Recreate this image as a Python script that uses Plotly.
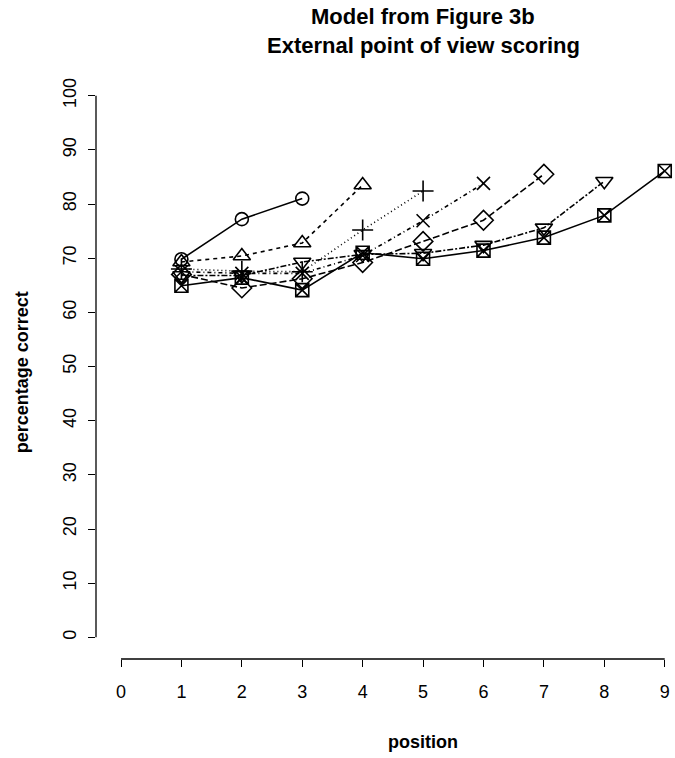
import plotly.graph_objects as go

# Data (percentage correct by position)
circle_y = [69.8, 77.2, 81.0]
triangle_y = [69.3, 70.4, 72.8, 83.5]
plus_y = [68.0, 67.6, 67.5, 75.2, 82.4]
cross_y = [67.5, 67.2, 67.2, 70.5, 76.9, 83.8]
diamond_y = [67.0, 64.5, 66.2, 69.2, 73.1, 77.0, 85.5]
invtri_y = [66.8, 66.8, 69.3, 70.7, 70.9, 72.4, 75.6, 84.2]
square_y = [64.9, 66.4, 64.1, 71.0, 69.9, 71.4, 73.8, 77.9, 86.1]

series = [circle_y, triangle_y, plus_y, cross_y, diamond_y, invtri_y, square_y]
symbols = ["circle-open", "triangle-up-open", "cross-thin-open", "x-thin-open",
           "diamond-open", "triangle-down-open", "square-x-open"]
sizes = [13, 15, 15, 13, 15, 15, 13]
dashes = ["solid", "4px,4px", "1px,3px", "1px,3px,4px,3px", "7px,3px", "2px,2px,6px,2px", "solid"]

x_ticks = list(range(0, 10))
y_ticks = list(range(0, 101, 10))

fig = go.Figure()
for ys, sym, sz, dsh in zip(series, symbols, sizes, dashes):
    xs = list(range(1, len(ys) + 1))
    fig.add_trace(go.Scatter(
        x=xs, y=ys, mode="lines+markers",
        line=dict(color="black", width=1.6, dash=dsh),
        marker=dict(symbol=sym, size=sz, color="black",
                    line=dict(color="black", width=1.6)),
        cliponaxis=False, showlegend=False,
    ))

font = "Liberation Sans, Arial, sans-serif"
fig.update_layout(
    width=675, height=758,
    margin=dict(l=96, r=0, t=74, b=99),
    paper_bgcolor="white", plot_bgcolor="white",
    font=dict(family=font, color="black", size=18),
    xaxis=dict(range=[-0.414, 9.17], tickvals=x_ticks, ticks="outside", ticklen=7,
               tickwidth=1.3, tickcolor="black", showgrid=False, zeroline=False,
               showline=False, ticklabelstandoff=9, tickfont=dict(size=18)),
    yaxis=dict(range=[-4, 104], tickvals=y_ticks, ticks="outside", ticklen=7,
               tickwidth=1.3, tickcolor="black", showgrid=False, zeroline=False,
               showline=False, tickangle=-90, ticklabelstandoff=5,
               tickfont=dict(size=18)),
    shapes=[
        dict(type="line", xref="x", yref="paper", x0=0, x1=9, y0=0, y1=0,
             line=dict(color="black", width=1.3)),
        dict(type="line", xref="paper", yref="y", x0=0, x1=0, y0=0, y1=100,
             line=dict(color="black", width=1.3)),
    ],
    annotations=[
        dict(text="<b>Model from Figure 3b</b>", xref="paper", yref="paper",
             x=0.565, y=1, yshift=58, showarrow=False, xanchor="center",
             yanchor="middle", font=dict(size=22)),
        dict(text="<b>External point of view scoring</b>", xref="paper", yref="paper",
             x=0.565, y=1, yshift=29, showarrow=False, xanchor="center",
             yanchor="middle", font=dict(size=22)),
        dict(text="<b>position</b>", xref="paper", yref="paper",
             x=0.565, y=0, yshift=-83, showarrow=False, xanchor="center",
             yanchor="middle", font=dict(size=18)),
        dict(text="<b>percentage correct</b>", xref="paper", yref="paper",
             x=0, xshift=-74, y=0.49, showarrow=False, xanchor="center",
             yanchor="middle", textangle=-90, font=dict(size=18)),
    ],
)

fig.write_html("out.html", config={"displayModeBar": False},
               post_script="document.body.style.margin='0';document.body.style.overflow='hidden';")
